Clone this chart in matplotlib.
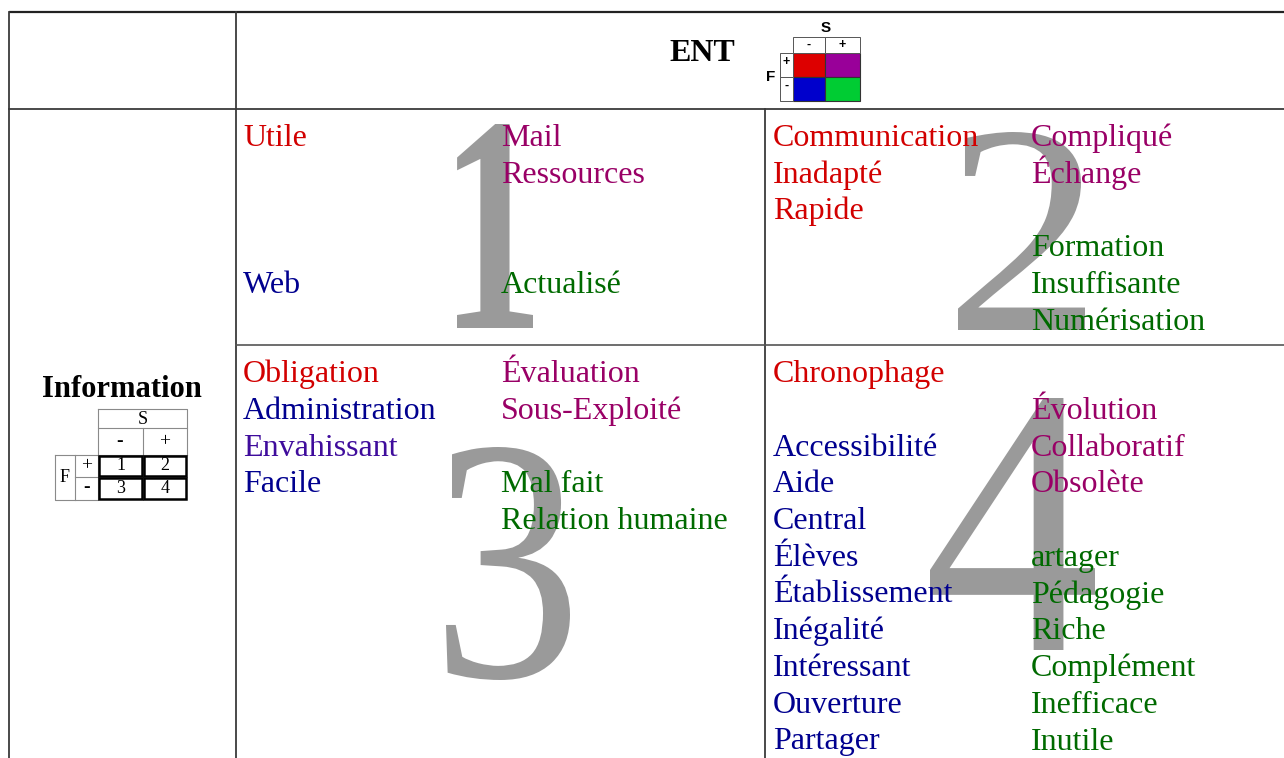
import matplotlib
matplotlib.use("Agg")
import matplotlib.pyplot as plt
from matplotlib.patches import Rectangle, PathPatch
from matplotlib.textpath import TextPath
from matplotlib.font_manager import FontProperties
from matplotlib.transforms import Affine2D

# ---------------- data ----------------
header_col = "ENT"
header_row = "Information"

palette = {"red": "#D20000", "purple": "#990066", "blue": "#00008F",
           "green": "#006A00", "indigo": "#3F0C9C"}

# quadrant 1 (F+, S-)
q1_words = ["Utile", "Web", "Mail", "Ressources", "Actualisé"]
q1_rows = [0, 4, 0, 1, 4]
q1_cols = [0, 0, 1, 1, 1]
q1_colors = ["red", "blue", "purple", "purple", "green"]

# quadrant 2 (F+, S+)
q2_words = ["Communication", "Inadapté", "Rapide", "Compliqué", "Échange",
            "Formation", "Insuffisante", "Numérisation"]
q2_rows = [0, 1, 2, 0, 1, 3, 4, 5]
q2_cols = [0, 0, 0, 1, 1, 1, 1, 1]
q2_colors = ["red", "red", "red", "purple", "purple", "green", "green", "green"]

# quadrant 3 (F-, S-)
q3_words = ["Obligation", "Administration", "Envahissant", "Facile",
            "Évaluation", "Sous-Exploité", "Mal fait", "Relation humaine"]
q3_rows = [0, 1, 2, 3, 0, 1, 3, 4]
q3_cols = [0, 0, 0, 0, 1, 1, 1, 1]
q3_colors = ["red", "blue", "indigo", "blue", "purple", "purple", "green", "green"]

# quadrant 4 (F-, S+)
q4_words = ["Chronophage", "Accessibilité", "Aide", "Central", "Élèves",
            "Établissement", "Inégalité", "Intéressant", "Ouverture", "Partager",
            "Évolution", "Collaboratif", "Obsolète",
            "artager", "Pédagogie", "Riche", "Complément", "Inefficace", "Inutile"]
q4_rows = [0, 2, 3, 4, 5, 6, 7, 8, 9, 10,
           1, 2, 3,
           5, 6, 7, 8, 9, 10]
q4_cols = [0] * 10 + [1] * 3 + [1] * 6
q4_colors = ["red"] + ["blue"] * 9 + ["purple"] * 3 + ["green"] * 6

quad_digits = ["1", "2", "3", "4"]

# legend grids
ent_grid_colors = [["#DD0000", "#990099"], ["#0000CC", "#00CC33"]]
ent_s_labels = ["-", "+"]
ent_f_labels = ["+", "-"]
info_numbers = [["1", "2"], ["3", "4"]]

# ---------------- drawing ----------------
W, H = 1284, 758
fig = plt.figure(figsize=(W / 100, H / 100), dpi=100)
ax = fig.add_axes([0, 0, 1, 1])
ax.set_xlim(0, W)
ax.set_ylim(H, 0)
ax.axis("off")

SERIF = ["Liberation Serif", "DejaVu Serif"]
SANS = ["Liberation Sans", "DejaVu Sans"]
lc = "#3a3a3a"

# table lines
ax.plot([9, W], [12, 12], color="#222222", lw=1.6, solid_capstyle="butt")
ax.plot([9, 9], [12, H], color=lc, lw=1.3)
ax.plot([235.5, 235.5], [12, H], color=lc, lw=1.3)
ax.plot([9, W], [109, 109], color=lc, lw=1.3)
ax.plot([765, 765], [109, H], color=lc, lw=1.3)
ax.plot([236, W], [345, 345], color="#555555", lw=1.2)

# big faded quadrant digits, stretched into their boxes
digit_boxes = [  # (x0, x1, ytop, ybottom)
    (457, 533, 124, 328),
    (958, 1085, 132, 330),
    (446, 570, 447, 680),
    (930, 1095, 398, 650),
]
digit_weights = ["bold", "normal", "normal", "normal"]
for d, (x0, x1, yt, yb), wgt in zip(quad_digits, digit_boxes, digit_weights):
    fp = FontProperties(family=SERIF, weight=wgt)
    tp = TextPath((0, 0), d, size=100, prop=fp)
    ext = tp.get_extents()
    sx = (x1 - x0) / ext.width
    sy = (yb - yt) / ext.height
    tr = Affine2D().translate(-ext.x0, -ext.y0).scale(sx, -sy).translate(x0, yb)
    path = tr.transform_path(tp)
    ax.add_patch(PathPatch(path, facecolor="#9a9a9a", edgecolor="none", zorder=1))

# words
FS = 23
step = 36.75
quads = [
    (q1_words, q1_rows, q1_cols, q1_colors, (243, 501), 146),
    (q2_words, q2_rows, q2_cols, q2_colors, (773, 1031), 146),
    (q3_words, q3_rows, q3_cols, q3_colors, (243, 501), 382),
    (q4_words, q4_rows, q4_cols, q4_colors, (773, 1031), 382),
]
for words, rows, cols, colors, xs, y0 in quads:
    for w, r, c, col in zip(words, rows, cols, colors):
        ax.text(xs[c], y0 + r * step, w, fontsize=FS, family=SERIF,
                color=palette[col], ha="left", va="baseline", zorder=3)

# headers
ax.text(702, 61, header_col, fontsize=23, family=SERIF, weight="bold",
        ha="center", va="baseline", color="black")
ax.text(122, 397, header_row, fontsize=22, family=SERIF, weight="bold",
        ha="center", va="baseline", color="black")

# ENT legend (top)
gx = [793, 825, 860]
gy = [53, 77, 101]
for i in range(2):
    for j in range(2):
        ax.add_patch(Rectangle((gx[j], gy[i]), gx[j + 1] - gx[j], gy[i + 1] - gy[i],
                               facecolor=ent_grid_colors[i][j], edgecolor="#333333",
                               lw=0.8, zorder=2))
for j in range(2):
    ax.add_patch(Rectangle((gx[j], 37), gx[j + 1] - gx[j], 16, facecolor="white",
                           edgecolor="#555555", lw=0.7, zorder=2))
    ax.text((gx[j] + gx[j + 1]) / 2, 45, ent_s_labels[j], fontsize=9, family=SANS,
            weight="bold", ha="center", va="center", zorder=3)
for i in range(2):
    ax.add_patch(Rectangle((780, gy[i]), 13, 24, facecolor="white",
                           edgecolor="#555555", lw=0.7, zorder=2))
    ax.text(786.5, (gy[i] + gy[i + 1]) / 2 - 3, ent_f_labels[i], fontsize=9, family=SANS,
            weight="bold", ha="center", va="center", zorder=3)
ax.text(826, 28, "S", fontsize=11, family=SANS, weight="bold", ha="center", va="center")
ax.text(771, 77, "F", fontsize=11, family=SANS, weight="bold", ha="center", va="center")

# Information legend (left)
lx = [55, 75, 98, 143, 187]
ly = [409, 428, 455, 477, 500]
thin = dict(color="#8a8a8a", lw=0.8)
ax.plot([98, 187, 187, 98, 98], [409, 409, 428, 428, 409], **thin)
ax.text(143, 419, "S", fontsize=13, family=SERIF, ha="center", va="center")
ax.plot([98, 187], [455, 455], **thin)
ax.plot([143, 143], [428, 455], **thin)
ax.plot([187, 187], [428, 455], **thin)
ax.plot([98, 98], [428, 455], **thin)
ax.text(120, 442, "-", fontsize=14, family=SERIF, weight="bold", ha="center", va="center")
ax.text(165, 442, "+", fontsize=14, family=SERIF, ha="center", va="center")
ax.plot([55, 98, 98, 55, 55], [455, 455, 500, 500, 455], **thin)
ax.plot([75, 75], [455, 500], **thin)
ax.plot([75, 98], [477, 477], **thin)
ax.text(65, 477, "F", fontsize=13, family=SERIF, ha="center", va="center")
ax.text(86.5, 466, "+", fontsize=14, family=SERIF, ha="center", va="center")
ax.text(86.5, 488, "-", fontsize=14, family=SERIF, weight="bold", ha="center", va="center")
for i in range(2):
    for j in range(2):
        ax.add_patch(Rectangle((lx[2 + j] + 1, ly[2 + i] + 1), lx[3 + j] - lx[2 + j] - 2,
                               ly[3 + i] - ly[2 + i] - 2, facecolor="white",
                               edgecolor="black", lw=1.8, zorder=2))
        ax.text((lx[2 + j] + lx[3 + j]) / 2, (ly[2 + i] + ly[3 + i]) / 2,
                info_numbers[i][j], fontsize=13, family=SERIF, ha="center",
                va="center", zorder=3)

fig.savefig("out.png", dpi=100)
